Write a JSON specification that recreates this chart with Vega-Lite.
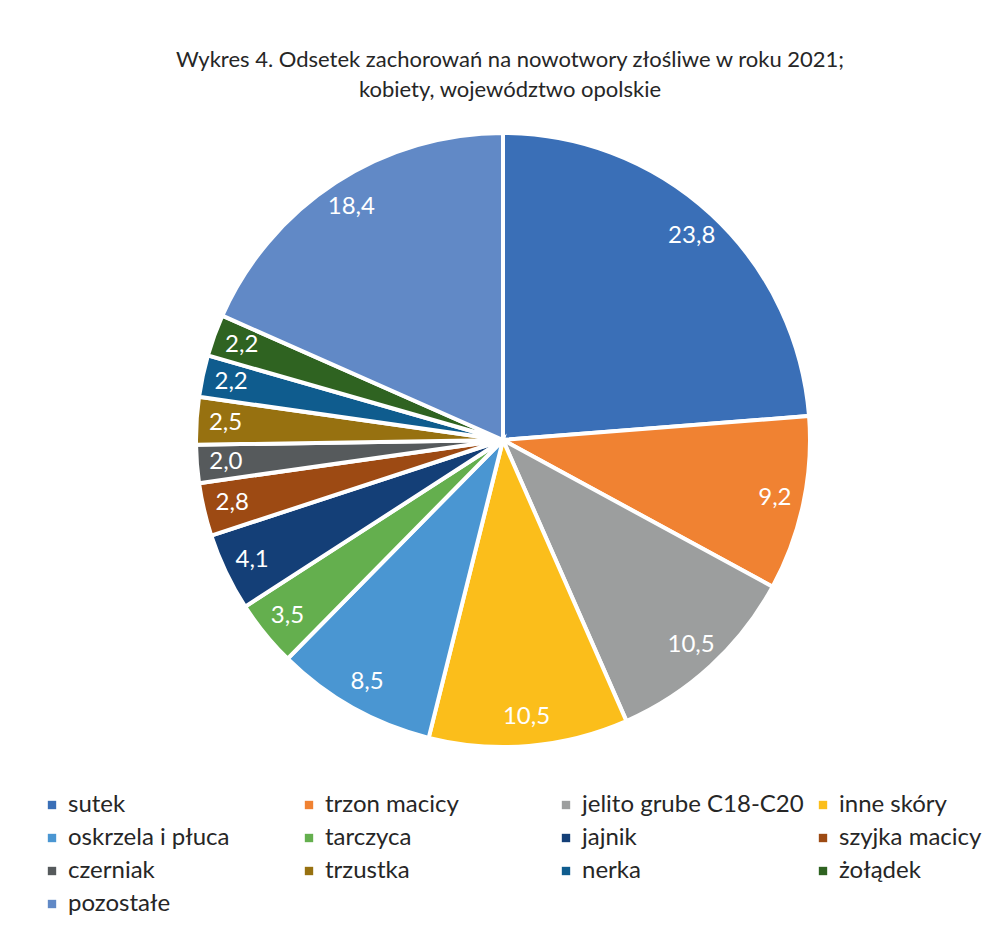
{
  "$schema": "https://vega.github.io/schema/vega-lite/v6.json",
  "autosize": {"type": "none"},
  "width": 1006,
  "height": 660,
  "padding": {"left": 0, "top": 110, "right": 0, "bottom": 165},
  "background": "white",
  "title": {
    "text": ["Wykres 4. Odsetek zachorowań na nowotwory złośliwe w roku 2021;", "kobiety, województwo opolskie"],
    "font": "Lato",
    "fontSize": 22,
    "fontWeight": "normal",
    "color": "#262626",
    "lineHeight": 30,
    "anchor": "middle",
    "dx": 7,
    "offset": 8
  },
  "data": {
    "values": [
      {"kategoria": "sutek", "wartosc": 23.8, "etykieta": "23,8", "kolejnosc": 1},
      {"kategoria": "trzon macicy", "wartosc": 9.2, "etykieta": "9,2", "kolejnosc": 2},
      {"kategoria": "jelito grube C18-C20", "wartosc": 10.5, "etykieta": "10,5", "kolejnosc": 3},
      {"kategoria": "inne skóry", "wartosc": 10.5, "etykieta": "10,5", "kolejnosc": 4},
      {"kategoria": "oskrzela i płuca", "wartosc": 8.5, "etykieta": "8,5", "kolejnosc": 5},
      {"kategoria": "tarczyca", "wartosc": 3.5, "etykieta": "3,5", "kolejnosc": 6},
      {"kategoria": "jajnik", "wartosc": 4.1, "etykieta": "4,1", "kolejnosc": 7},
      {"kategoria": "szyjka macicy", "wartosc": 2.8, "etykieta": "2,8", "kolejnosc": 8},
      {"kategoria": "czerniak", "wartosc": 2.0, "etykieta": "2,0", "kolejnosc": 9},
      {"kategoria": "trzustka", "wartosc": 2.5, "etykieta": "2,5", "kolejnosc": 10},
      {"kategoria": "nerka", "wartosc": 2.2, "etykieta": "2,2", "kolejnosc": 11},
      {"kategoria": "żołądek", "wartosc": 2.2, "etykieta": "2,2", "kolejnosc": 12},
      {"kategoria": "pozostałe", "wartosc": 18.4, "etykieta": "18,4", "kolejnosc": 13}
    ]
  },
  "encoding": {
    "theta": {"field": "wartosc", "type": "quantitative", "stack": true},
    "order": {"field": "kolejnosc", "type": "quantitative"},
    "color": {
      "field": "kategoria",
      "type": "nominal",
      "sort": ["sutek", "trzon macicy", "jelito grube C18-C20", "inne skóry", "oskrzela i płuca", "tarczyca", "jajnik", "szyjka macicy", "czerniak", "trzustka", "nerka", "żołądek", "pozostałe"],
      "scale": {
        "domain": ["sutek", "trzon macicy", "jelito grube C18-C20", "inne skóry", "oskrzela i płuca", "tarczyca", "jajnik", "szyjka macicy", "czerniak", "trzustka", "nerka", "żołądek", "pozostałe"],
        "range": ["#3A6FB7", "#F08232", "#9C9E9E", "#FBBE1B", "#4A96D2", "#64AF4E", "#143F77", "#9D4A13", "#565A5C", "#977110", "#0F5C8E", "#2F6321", "#6189C6"]
      },
      "legend": {
        "orient": "none",
        "legendX": 40,
        "legendY": 683,
        "direction": "horizontal",
        "columns": 4,
        "gridAlign": "all",
        "columnPadding": 7,
        "rowPadding": 9,
        "title": null,
        "symbolType": "square",
        "symbolSize": 70,
        "symbolStrokeWidth": 0,
        "labelFont": "Lato",
        "labelFontSize": 24,
        "labelColor": "#262626",
        "labelOffset": 4,
        "labelLimit": 300
      }
    }
  },
  "layer": [
    {
      "mark": {"type": "arc", "outerRadius": 307, "stroke": "white", "strokeWidth": 4}
    },
    {
      "mark": {"type": "text", "radius": 278, "font": "Lato", "fontSize": 24},
      "encoding": {
        "text": {"field": "etykieta", "type": "nominal"},
        "color": {"value": "white"}
      }
    }
  ]
}
